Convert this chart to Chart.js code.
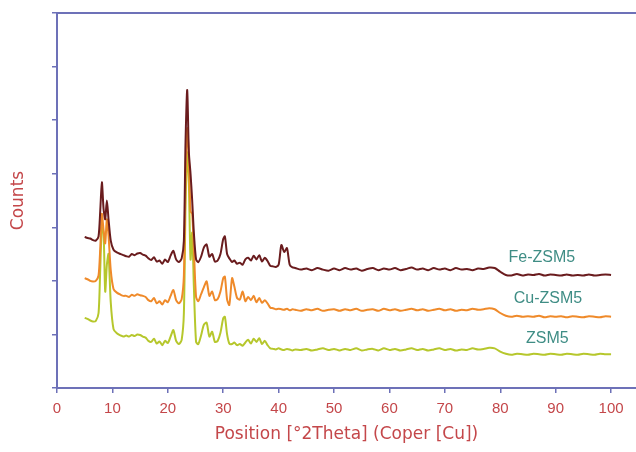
<!DOCTYPE html>
<html>
<head>
<meta charset="utf-8">
<script src="https://cdn.jsdelivr.net/npm/chart.js@4"></script>
<style>
  html, body { margin: 0; padding: 0; background: #fff; }
  #wrap { width: 636px; height: 452px; }
</style>
</head>
<body>
<div id="wrap"><canvas id="xrdChart"></canvas></div>
<script>
// 2-theta positions shared by all three patterns
const theta = [
  5, 5.5, 6, 6.5, 7, 7.5, 7.8, 8.1, 8.4, 8.7,
  9.0, 9.3, 9.7, 10.2, 10.8, 11.5, 12, 12.5, 13, 13.5,
  14, 14.5, 15, 15.5, 16, 16.5, 17, 17.5, 18, 18.5,
  19, 19.5, 20, 20.5, 21, 21.5, 22, 22.5, 22.9, 23.2,
  23.5, 23.8, 24.1, 24.4, 24.7, 25.1, 25.5, 26, 26.5, 27,
  27.5, 28, 28.5, 29, 29.5, 30, 30.3, 30.7, 31.1, 31.6,
  32, 32.5, 33, 33.5, 34, 34.5, 35, 35.5, 36, 36.5,
  37, 37.5, 38, 38.5, 39, 39.5, 40, 40.5, 41, 41.5,
  42, 42.5, 43, 44, 45, 46, 47, 48, 49, 50,
  51, 52, 53, 54, 55, 56, 57, 58, 59, 60,
  61, 62, 63, 64, 65, 66, 67, 68, 69, 70,
  71, 72, 73, 74, 75, 76, 77, 78, 79, 80,
  81, 82, 83, 84, 85, 86, 87, 88, 89, 90,
  91, 92, 93, 94, 95, 96, 97, 98, 99, 100
];

const feZsm5 = [
  2820, 2800, 2790, 2760, 2750, 2830, 3300, 3840, 3350, 3150,
  3500, 3150, 2750, 2580, 2530, 2500, 2480, 2460, 2450, 2500,
  2480, 2510, 2520, 2490, 2470, 2420, 2390, 2440, 2360, 2380,
  2320, 2400, 2350, 2470, 2560, 2400, 2350, 2420, 2750, 4600,
  5560, 4400, 4000, 3500, 2900, 2400, 2350, 2450, 2620, 2680,
  2450, 2500, 2360, 2380, 2500, 2780, 2830, 2500, 2420, 2350,
  2380, 2320, 2340, 2300, 2400, 2430, 2380, 2470, 2400, 2480,
  2360, 2430, 2370, 2280, 2270, 2260, 2300, 2670, 2540, 2610,
  2300, 2250, 2240, 2210, 2230, 2200, 2240, 2210, 2190, 2230,
  2200, 2240, 2210, 2230, 2190, 2220, 2240, 2200, 2230, 2210,
  2240, 2200, 2220, 2250, 2210, 2230, 2200, 2240, 2210, 2230,
  2200, 2240, 2210, 2220, 2200, 2230, 2220, 2250, 2240, 2170,
  2110, 2100, 2130, 2100, 2120, 2110, 2130, 2100, 2120, 2110,
  2100, 2120, 2100, 2110, 2100, 2120, 2100, 2110, 2120, 2110
];

const cuZsm5 = [
  2050, 2030, 2000, 1990, 2000, 2100, 2600, 3250, 2950, 2700,
  3150, 2850, 2200, 1850, 1780, 1740, 1720, 1720, 1700, 1740,
  1720, 1750, 1730, 1720, 1700, 1640, 1620, 1680, 1580, 1620,
  1560, 1640, 1600, 1720, 1830, 1640, 1580, 1660, 2100, 3900,
  4850, 4300, 3300, 3250, 2600, 1700, 1620, 1750, 1880, 1990,
  1720, 1800, 1640, 1660, 1800, 2050, 2080, 1650, 1550, 2050,
  1900, 1680, 1650, 1800, 1620, 1700, 1640, 1720, 1600, 1680,
  1590, 1640, 1580, 1500, 1490, 1470, 1480, 1470, 1460, 1480,
  1450, 1470, 1460, 1440, 1470, 1450, 1480, 1440, 1460, 1470,
  1440, 1470, 1450, 1480, 1440, 1460, 1470, 1440, 1480, 1450,
  1470, 1440, 1460, 1480, 1450, 1470, 1440, 1460, 1480, 1450,
  1470, 1440, 1460, 1450, 1480, 1460, 1470, 1490, 1470, 1400,
  1350, 1330, 1350, 1330, 1340, 1330, 1350, 1320, 1340, 1330,
  1340, 1320, 1340, 1330, 1320, 1340, 1330, 1320, 1340, 1330
];

const zsm5 = [
  1310, 1290, 1260, 1240, 1250, 1400, 2200, 3000, 2900, 1800,
  2300, 2500, 1600, 1100, 1020, 980, 960, 980, 960, 990,
  970, 1000, 990, 960, 940, 880, 860, 920, 830, 870,
  800, 880, 840, 960, 1080, 880, 820, 900, 1400, 3400,
  4400, 3800, 2400, 2900, 1900, 860, 820, 980, 1180, 1220,
  960, 1050, 860, 880, 1030, 1300, 1330, 1000, 830, 820,
  850, 800, 820, 790, 850, 900, 830, 920, 860, 930,
  820, 880, 800, 740, 730, 720, 740, 720, 710, 730,
  720, 700, 720, 710, 730, 700, 720, 740, 710, 730,
  700, 730, 710, 740, 700, 720, 730, 700, 740, 710,
  730, 700, 720, 740, 710, 730, 700, 720, 740, 710,
  730, 700, 720, 710, 740, 720, 730, 750, 740, 680,
  640, 620, 640, 630, 620, 640, 630, 620, 640, 630,
  620, 640, 630, 620, 640, 630, 620, 640, 630, 630
];

const seriesNames = ['Fe-ZSM5', 'Cu-ZSM5', 'ZSM5'];
const xTickValues = [0, 10, 20, 30, 40, 50, 60, 70, 80, 90, 100];

const axisColor = '#6d71b8';
const redText = '#c4474a';

function toPoints(ys) {
  return theta.map(function (t, i) { return { x: t, y: ys[i] }; });
}

// writes the sample names next to each trace, placed in data coordinates
const traceLabels = {
  id: 'traceLabels',
  afterDatasetsDraw(chart, args, opts) {
    const ctx = chart.ctx;
    const xs = chart.scales.x;
    const ys = chart.scales.y;
    ctx.save();
    ctx.font = '16px "Liberation Sans", Arial, sans-serif';
    ctx.fillStyle = opts.color;
    ctx.textAlign = 'center';
    ctx.textBaseline = 'middle';
    opts.anchors.forEach(function (a, i) {
      ctx.fillText(seriesNames[i], xs.getPixelForValue(a[0]), ys.getPixelForValue(a[1]));
    });
    ctx.restore();
  }
};

const ctxXrd = document.getElementById('xrdChart').getContext('2d');

new Chart(ctxXrd, {
  type: 'line',
  data: {
    datasets: [
      { label: seriesNames[0], data: toPoints(feZsm5), borderColor: '#6a1c1e', borderWidth: 2 },
      { label: seriesNames[1], data: toPoints(cuZsm5), borderColor: '#ef8a2a', borderWidth: 2 },
      { label: seriesNames[2], data: toPoints(zsm5), borderColor: '#b6c72c', borderWidth: 2 }
    ]
  },
  options: {
    responsive: true,
    maintainAspectRatio: false,
    animation: false,
    parsing: true,
    elements: {
      point: { radius: 0 },
      line: { tension: 0.25 }
    },
    layout: { padding: { top: 13, right: 0, bottom: 0, left: 0 } },
    plugins: {
      legend: { display: false },
      tooltip: { enabled: false },
      traceLabels: {
        color: '#3f8d85',
        anchors: [[87.5, 2440], [88.6, 1660], [88.5, 915]]
      }
    },
    scales: {
      x: {
        type: 'linear',
        position: 'bottom',
        min: 0,
        max: 104.5,
        afterBuildTicks: function (scale) {
          scale.ticks = xTickValues.map(function (v) { return { value: v }; });
        },
        afterFit: function (scale) { scale.height = 64; },
        border: { color: axisColor, width: 2 },
        grid: { drawOnChartArea: false, drawTicks: true, tickLength: 5, color: axisColor, lineWidth: 1.5 },
        ticks: {
          color: redText,
          padding: 7,
          maxRotation: 0,
          font: { family: '"Liberation Sans", Arial, sans-serif', size: 15 }
        },
        title: {
          display: true,
          text: 'Position [\u00B02Theta] (Coper [Cu])',
          color: redText,
          padding: { top: 0, bottom: 7 },
          font: { family: '"DejaVu Sans", sans-serif', size: 17 }
        }
      },
      xTop: {
        type: 'linear',
        position: 'top',
        min: 0,
        max: 104.5,
        border: { color: axisColor, width: 2 },
        grid: { drawOnChartArea: false, drawTicks: false },
        ticks: { display: false }
      },
      y: {
        min: 0,
        max: 7000,
        afterFit: function (scale) { scale.width = 57; },
        border: { color: axisColor, width: 2 },
        grid: { drawOnChartArea: false, drawTicks: true, tickLength: 5, color: axisColor, lineWidth: 1.5 },
        ticks: { stepSize: 1000, display: false },
        title: {
          display: true,
          text: 'Counts',
          color: redText,
          padding: { top: 8, bottom: 0 },
          font: { family: '"DejaVu Sans", sans-serif', size: 17 }
        }
      }
    }
  },
  plugins: [traceLabels]
});
</script>
</body>
</html>
